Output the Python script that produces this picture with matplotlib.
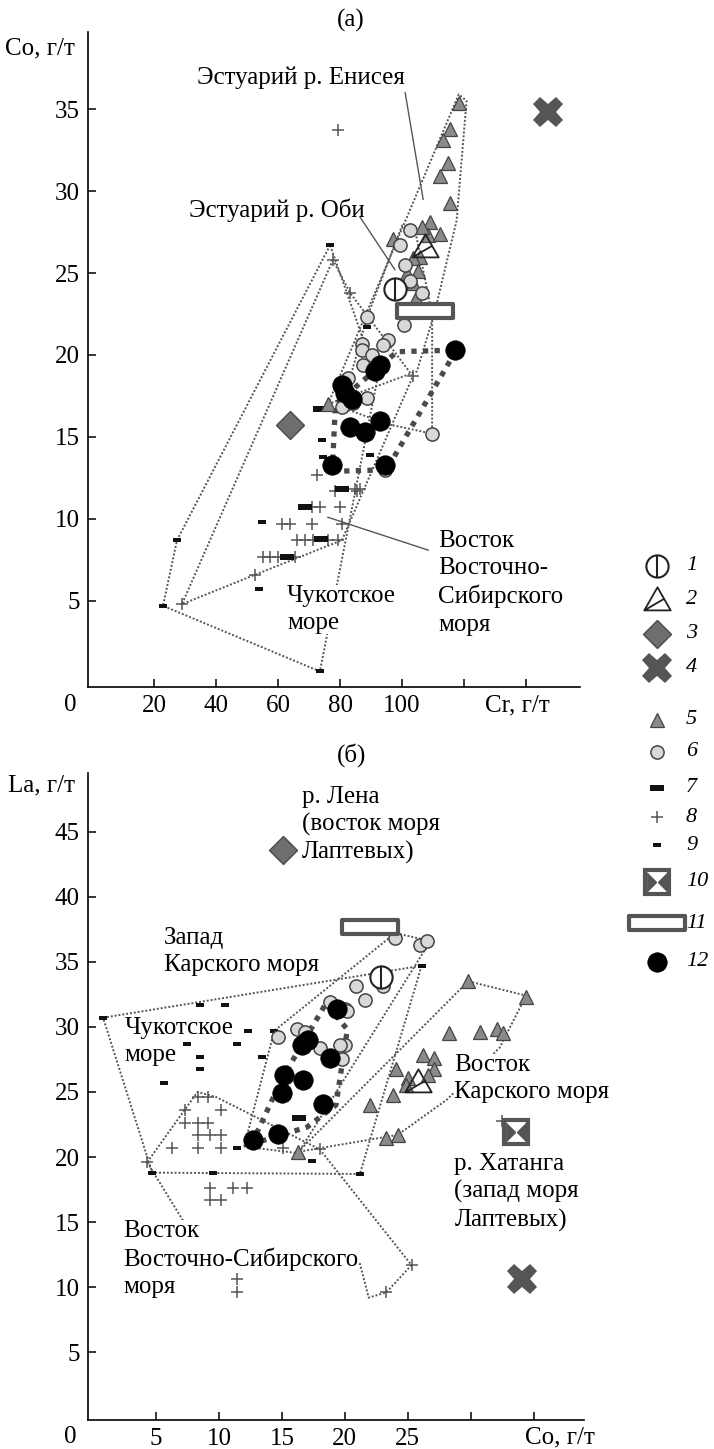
import numpy as np
import matplotlib.pyplot as plt
from matplotlib.path import Path

plt.rcParams['font.family'] = ['Liberation Serif', 'DejaVu Serif']

W, H = 714, 1449

# ---------------- panel (a): Co vs Cr ----------------
a1_cr, a1_co = [97.7], [24.0]
a2_cr, a2_co = [107.4], [26.6]
a3_cr, a3_co = [63.9], [15.7]
a4_cr, a4_co = [147.0], [34.8]
a11_cr, a11_co = [107.4], [22.7]
a5_cr = [118.4, 115.5, 113.2, 114.8, 112.3, 115.5, 109.0, 108.5, 112.3, 105.8, 103.5,
         101.6, 105.2, 103.5, 97.1, 101.6, 76.1, 106.5, 104.5]
a5_co = [35.4, 33.8, 33.1, 31.7, 30.9, 29.3, 28.1, 27.3, 27.4, 26.0, 25.9,
         25.0, 25.1, 24.4, 27.1, 22.7, 17.0, 27.8, 23.5]
a6_cr = [102.6, 99.4, 102.6, 106.5, 100.6, 88.7, 87.1, 87.1, 95.5, 93.9, 90.3, 87.4,
         82.6, 88.7, 80.6, 84.2, 109.7, 94.5, 101.0]
a6_co = [27.6, 26.7, 24.5, 23.8, 21.8, 22.3, 20.7, 20.3, 20.9, 20.6, 20.0, 19.4,
         18.6, 17.4, 16.8, 17.1, 15.2, 13.0, 25.5]
a7_cr = [73.5, 68.7, 74.0, 62.9, 80.6]
a7_co = [16.7, 10.7, 8.8, 7.7, 11.8]
a8_cr = [79.4, 77.7, 83.2, 103.5, 72.6, 78.4, 85.5, 84.8, 86.5, 71.0, 73.5, 80.0, 61.3,
         63.9, 71.0, 80.6, 66.0, 68.7, 71.3, 76.1, 79.4, 55.2, 57.4, 60.0, 65.5, 52.6, 29.0]
a8_co = [33.7, 25.8, 23.8, 18.7, 12.7, 11.7, 11.7, 11.8, 11.8, 10.7, 10.7, 10.7, 9.7,
         9.7, 9.7, 9.7, 8.7, 8.7, 8.7, 8.7, 8.7, 7.7, 7.7, 7.7, 7.7, 6.6, 4.8]
a9_cr = [76.8, 27.4, 22.9, 73.5, 54.8, 53.7, 74.2, 74.5, 89.7, 88.7, 84.0]
a9_co = [26.7, 8.7, 4.7, 0.7, 9.8, 5.7, 14.8, 13.8, 13.9, 21.7, 16.0]
a12_cr = [117.1, 91.3, 92.9, 81.6, 83.9, 83.2, 88.1, 92.9, 77.4, 94.5, 80.5]
a12_co = [20.3, 19.0, 19.4, 17.7, 17.3, 15.6, 15.3, 16.0, 13.3, 13.3, 18.2]

a_trend = [(77.5, 12.9), (78.5, 17.0), (98.4, 20.2), (117.5, 20.3), (95.0, 13.0), (77.5, 12.9)]
a_polys = [
    [(76.8, 26.7), (27.4, 8.7), (22.9, 4.7), (73.5, 0.7), (92.0, 18.5), (76.8, 26.7)],
    [(77.7, 25.8), (29.0, 4.8), (52.6, 6.6), (80.6, 8.7), (103.5, 18.7), (83.2, 23.8), (77.7, 25.8)],
    [(80.6, 16.8), (88.7, 22.3), (100.0, 27.9), (104.0, 27.8), (109.7, 22.5), (109.7, 15.2),
     (95.0, 15.8), (80.6, 16.8)],
    [(76.1, 17.0), (118.3, 35.9), (120.8, 35.5), (117.6, 28.2), (110.5, 22.6), (104.8, 19.0),
     (76.1, 17.0)],
]
a_leaders = [
    [(86.5, 28.4), (97.7, 25.2)],
    [(101.0, 36.0), (106.8, 29.5)],
    [(76.1, 10.1), (108.4, 8.1)],
]

# ---------------- panel (б): La vs Co ----------------
b1_co, b1_la = [22.9], [33.8]
b2_co, b2_la = [25.8], [25.8]
b3_co, b3_la = [15.1], [43.6]
b4_co, b4_la = [34.1], [10.6]
b10_co, b10_la = [33.6], [21.9]
b11_co, b11_la = [22.0], [37.7]
b5_co = [29.8, 34.4, 28.3, 30.7, 32.1, 32.6, 26.2, 27.1, 24.1, 27.1, 26.6, 25.0, 24.9,
         23.8, 22.0, 23.3, 24.2, 16.3]
b5_la = [33.5, 32.3, 29.5, 29.6, 29.8, 29.5, 27.8, 27.6, 26.8, 26.8, 26.3, 26.1, 25.5,
         24.8, 24.0, 21.5, 21.7, 20.4]
b6_co = [24.0, 26.0, 26.5, 20.9, 21.6, 23.0, 18.8, 20.0, 16.2, 16.8, 14.7, 18.0, 20.0,
         19.6, 19.8, 20.2]
b6_la = [36.8, 36.3, 36.6, 33.1, 32.1, 33.1, 31.9, 31.4, 29.8, 29.6, 29.2, 28.4, 28.6,
         28.6, 27.5, 31.2]
b7_co, b7_la = [16.4], [23.0]
b8_co = [8.3, 9.1, 7.3, 10.2, 7.3, 8.3, 9.1, 8.3, 9.3, 10.2, 6.3, 8.3, 10.2, 15.1, 18.0,
         4.3, 9.3, 11.1, 12.2, 9.3, 10.2, 11.4, 11.4, 25.3, 23.3, 32.5]
b8_la = [24.6, 24.6, 23.6, 23.6, 22.6, 22.6, 22.6, 21.7, 21.7, 21.7, 20.7, 20.7, 20.7,
         20.7, 20.6, 19.6, 17.6, 17.6, 17.6, 16.7, 16.7, 10.6, 9.6, 11.7, 9.6, 22.8]
b9_co = [8.5, 10.5, 7.5, 8.5, 8.5, 5.6, 11.4, 12.3, 14.4, 13.4, 9.5, 4.7, 21.2, 17.4,
         0.8, 26.1, 11.4]
b9_la = [31.7, 31.7, 28.7, 27.7, 26.8, 25.7, 28.7, 29.7, 29.7, 27.7, 18.8, 18.8, 18.7,
         19.7, 30.7, 34.7, 20.7]
b12_co = [19.4, 16.6, 17.1, 18.8, 15.2, 16.7, 15.0, 18.3, 12.7, 14.7]
b12_la = [31.4, 28.6, 29.0, 27.6, 26.3, 25.9, 24.9, 24.1, 21.3, 21.8]

b_trend = [(12.6, 21.0), (15.0, 26.0), (18.5, 31.8), (20.2, 29.8), (19.3, 24.0),
           (17.0, 22.3), (12.6, 21.0)]
b_polys = [
    [(0.8, 30.7), (26.1, 34.7), (21.2, 18.7), (4.7, 18.8), (0.8, 30.7)],
    [(4.3, 19.6), (8.3, 25.0), (9.8, 24.6), (18.0, 20.6), (25.3, 11.7), (23.3, 9.6),
     (21.9, 9.2), (21.2, 11.8), (8.5, 13.0), (4.3, 19.6)],
    [(12.0, 20.8), (14.4, 29.7), (24.0, 37.2), (26.8, 36.6), (16.3, 20.3), (12.0, 20.8)],
    [(16.3, 20.4), (29.8, 33.5), (34.4, 32.4), (32.3, 28.4), (28.1, 24.4), (24.2, 21.7),
     (16.3, 20.4)],
]

legend_labels = ['1', '2', '3', '4', '5', '6', '7', '8', '9', '10', '11', '12']
legend_y = [566, 600, 634, 668, 720, 752, 788, 817, 845, 882, 923, 962]

# ---------------- marker shapes ----------------
def box(hw, hh):
    return Path([(-hw, -hh), (hw, -hh), (hw, hh), (-hw, hh), (-hw, -hh)], closed=True)

bar_m = box(1, 0.42)
dash_m = box(1, 0.55)
rect_m = box(1, 0.24)
bow_m = Path([(-1, -1), (0, 0), (-1, 1), (-1, -1), (1, -1), (0, 0), (1, 1), (1, -1)],
             [1, 2, 2, 79, 1, 2, 2, 79])
tri2_m = Path([(0, 1), (-1, -0.75), (1, -0.75), (0, 1), (-1, -0.75), (0.5, 0.125)],
              [1, 2, 2, 79, 1, 2])

STY = {
    1: [dict(marker='o', ms=16, mfc='white', mec='#222', mew=1.5),
        dict(marker='|', ms=16, mec='#222', mew=1.5)],
    2: [dict(marker=tri2_m, ms=19, mfc='none', mec='#222', mew=1.3)],
    3: [dict(marker='D', ms=14, mfc='#6e6e6e', mec='#4a4a4a', mew=1)],
    4: [dict(marker='X', ms=22, mfc='#555555', mec='#555555', mew=0)],
    5: [dict(marker='^', ms=10.5, mfc='#8a8a8a', mec='#444', mew=0.9)],
    6: [dict(marker='o', ms=9.5, mfc='#d8d8d8', mec='#444', mew=1.1)],
    7: [dict(marker=bar_m, ms=10, mfc='#111', mec='#111', mew=0)],
    8: [dict(marker='+', ms=9, mec='#555', mew=1.1)],
    9: [dict(marker=dash_m, ms=5.5, mfc='#111', mec='#111', mew=0)],
    10: [dict(marker='s', ms=17, mfc='white', mec='#555', mew=3),
         dict(marker=bow_m, ms=15, mfc='#555', mec='#555', mew=0)],
    11: [dict(marker=rect_m, ms=40, mfc='white', mec='#555', mew=3)],
    12: [dict(marker='o', ms=14, mfc='black', mec='black', mew=0.5)],
}

def pts(ax, x, y, kind, z=3):
    for s in STY[kind]:
        ax.plot(x, y, ls='none', zorder=z, **s)

def line(ax, p, **kw):
    p = np.array(p)
    ax.plot(p[:, 0], p[:, 1], **kw)

def px(x, y):
    return x / W, 1 - y / H

fs = 18
dot = dict(color='#555', lw=1.4, ls=(0, (1, 1)), zorder=1)
thick = dict(color='#4a4a4a', lw=3.8, ls=(0, (1, 1.2)), dash_capstyle='butt', zorder=2)
lead = dict(color='#555', lw=1, zorder=2)
wb = dict(fc='white', ec='none', pad=0)

fig = plt.figure(figsize=(W / 100, H / 100), dpi=100)
ax_a = fig.add_axes([88 / W, 1 - 687 / H, (580 - 88) / W, (687 - 32) / H])
ax_b = fig.add_axes([88 / W, 1 - 1420 / H, (584 - 88) / W, (1420 - 773) / H])

for ax in (ax_a, ax_b):
    for s in ('top', 'right'):
        ax.spines[s].set_visible(False)
    for s in ('left', 'bottom'):
        ax.spines[s].set_linewidth(1.2)
    ax.tick_params(direction='in', length=6, width=1.1, labelsize=fs, pad=6)

# panel (a)
for p in a_polys:
    line(ax_a, p, **dot)
line(ax_a, a_trend, **thick)
for p in a_leaders:
    line(ax_a, p, **lead)
pts(ax_a, a8_cr, a8_co, 8)
pts(ax_a, a9_cr, a9_co, 9)
pts(ax_a, a7_cr, a7_co, 7)
pts(ax_a, a5_cr, a5_co, 5)
pts(ax_a, a6_cr, a6_co, 6)
pts(ax_a, a12_cr, a12_co, 12, z=4)
pts(ax_a, a1_cr, a1_co, 1, z=5)
pts(ax_a, a2_cr, a2_co, 2, z=5)
pts(ax_a, a11_cr, a11_co, 11, z=5)
pts(ax_a, a3_cr, a3_co, 3, z=5)
pts(ax_a, a4_cr, a4_co, 4, z=5)

ax_a.set_xlim(-1.3, 157.4)
ax_a.set_ylim(-0.25, 39.7)
ax_a.set_xticks([20, 40, 60, 80, 100, 120, 140])
ax_a.set_xticklabels(['20', '40', '60', '80', '100', '', ''])
ax_a.set_yticks([5, 10, 15, 20, 25, 30, 35])

ax_a.text(67.4, 36.9, 'Эстуарий р. Енисея', fontsize=fs, ha='center', va='center')
ax_a.text(59.7, 28.8, 'Эстуарий р. Оби', fontsize=fs, ha='center', va='center')
ax_a.text(62.9, 4.45, 'Чукотское\nморе', fontsize=fs, ha='left', va='center',
          linespacing=1.3, zorder=2.5, bbox=wb)
ax_a.text(111.6, 6.1, 'Восток\nВосточно-\nСибирского\nморя', fontsize=fs, ha='left',
          va='center', linespacing=1.3)

# panel (б)
for p in b_polys:
    line(ax_b, p, **dot)
line(ax_b, b_trend, **thick)
pts(ax_b, b8_co, b8_la, 8)
pts(ax_b, b9_co, b9_la, 9)
pts(ax_b, b7_co, b7_la, 7)
pts(ax_b, b5_co, b5_la, 5)
pts(ax_b, b6_co, b6_la, 6)
pts(ax_b, b12_co, b12_la, 12, z=4)
pts(ax_b, b1_co, b1_la, 1, z=5)
pts(ax_b, b2_co, b2_la, 2, z=5)
pts(ax_b, b11_co, b11_la, 11, z=5)
pts(ax_b, b10_co, b10_la, 10, z=5)
pts(ax_b, b3_co, b3_la, 3, z=5)
pts(ax_b, b4_co, b4_la, 4, z=5)

ax_b.set_xlim(-0.4, 39.0)
ax_b.set_ylim(-0.2, 49.5)
ax_b.set_xticks([5, 10, 15, 20, 25, 30, 35])
ax_b.set_xticklabels(['5', '10', '15', '20', '25', '', ''])
ax_b.set_yticks([5, 10, 15, 20, 25, 30, 35, 40, 45])

ax_b.text(16.6, 45.5, 'р. Лена\n(восток моря\nЛаптевых)', fontsize=fs, ha='left',
          va='center', linespacing=1.3)
ax_b.text(5.6, 35.8, 'Запад\nКарского моря', fontsize=fs, ha='left', va='center',
          linespacing=1.3)
ax_b.text(2.5, 28.9, 'Чукотское\nморе', fontsize=fs, ha='left', va='center',
          linespacing=1.3)
ax_b.text(2.4, 12.2, 'Восток\nВосточно-Сибирского\nморя', fontsize=fs, ha='left',
          va='center', linespacing=1.3, zorder=2.5, bbox=wb)
ax_b.text(28.7, 26.0, 'Восток\nКарского моря', fontsize=fs, ha='left', va='center',
          linespacing=1.3, zorder=2.5, bbox=wb)
ax_b.text(28.7, 17.3, 'р. Хатанга\n(запад моря\nЛаптевых)', fontsize=fs, ha='left',
          va='center', linespacing=1.3)

# axis names, origin, panel titles
fig.text(*px(75, 48), 'Co, г/т', fontsize=fs, ha='right', va='center')
fig.text(*px(517, 705), 'Cr, г/т', fontsize=fs, ha='center', va='center')
fig.text(*px(70, 705), '0', fontsize=fs, ha='center', va='center')
fig.text(*px(351, 20), '(а)', fontsize=fs, ha='center', va='center')
fig.text(*px(75, 785), 'La, г/т', fontsize=fs, ha='right', va='center')
fig.text(*px(560, 1437), 'Co, г/т', fontsize=fs, ha='center', va='center')
fig.text(*px(70, 1437), '0', fontsize=fs, ha='center', va='center')
fig.text(*px(352, 755), '(б)', fontsize=fs, ha='center', va='center')

# legend on the right
lg = fig.add_axes([0, 0, 1, 1], facecolor='none')
lg.set_xlim(0, W)
lg.set_ylim(H, 0)
lg.axis('off')
for i, (lab, yy) in enumerate(zip(legend_labels, legend_y)):
    pts(lg, [657], [yy], i + 1)
    lg.text(686, yy, lab, fontsize=16, style='italic', ha='left', va='center')

fig.savefig('out.png', dpi=100)
